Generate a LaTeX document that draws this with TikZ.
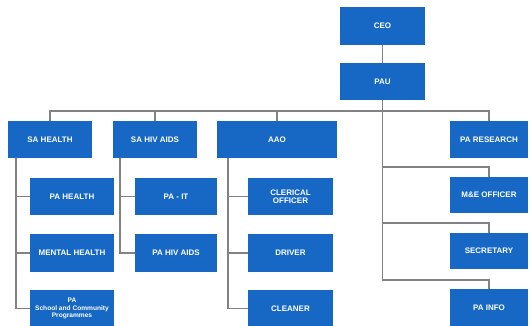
\documentclass[tikz,border=0pt]{standalone}
\usepackage{fontspec}
\setmainfont{Liberation Sans}
\definecolor{boxblue}{RGB}{22,104,196}
\definecolor{linegray}{RGB}{130,130,130}
\begin{document}
\begin{tikzpicture}[x=1pt,y=-1pt,
  box/.style={draw=none,fill=boxblue,text=white,font=\bfseries\fontsize{8}{8.5}\selectfont,
    minimum height=37pt,inner sep=1pt,align=center},
  conn/.style={draw=linegray,line width=1.5pt}]
\clip (0,0) rectangle (531,325);
\fill[white] (0,0) rectangle (531,325);
\node[box,minimum width=85pt,minimum height=38pt] (CEO) at (382.5,26) {CEO};
\node[box,minimum width=85pt] (PAU) at (382.5,81.5) {PAU};
\node[box,minimum width=84pt] (SAH) at (50,139.5) {SA HEALTH};
\node[box,minimum width=84pt] (SAHIV) at (155,139.5) {SA HIV AIDS};
\node[box,minimum width=120pt] (AAO) at (277,139.5) {AAO};
\node[box,minimum width=78pt] (PAR) at (489,139.5) {PA RESEARCH};
\node[box,minimum width=84pt] (PAH) at (72,196.5) {PA HEALTH};
\node[box,minimum width=84pt,minimum height=38pt] (MH) at (72,253) {MENTAL HEALTH};
\node[box,minimum width=84pt,font=\bfseries\fontsize{6.6}{7.8}\selectfont] (PAS) at (72,308.5) {PA\\School and Community\\Programmes};
\node[box,minimum width=82pt] (PAIT) at (176,196.5) {PA - IT};
\node[box,minimum width=82pt,minimum height=38pt] (PAHIV) at (176,253) {PA HIV AIDS};
\node[box,minimum width=85pt] (CLO) at (290.5,196.5) {CLERICAL\\OFFICER};
\node[box,minimum width=85pt,minimum height=38pt] (DRV) at (290.5,253) {DRIVER};
\node[box,minimum width=85pt] (CLN) at (290.5,308.5) {CLEANER};
\node[box,minimum width=78pt,minimum height=36pt] (ME) at (489,195) {M\&E OFFICER};
\node[box,minimum width=78pt,minimum height=36pt] (SEC) at (489,251) {SECRETARY};
\node[box,minimum width=78pt] (INFO) at (489,307.5) {PA INFO};
% connectors
\draw[conn] (CEO.south) -- (PAU.north);
\coordinate (bus) at (382.5,111);
\draw[conn] (PAU.south) -- (bus);
\draw[conn] (bus) -| (SAH.north);
\draw[conn] (bus) -| (SAHIV.north);
\draw[conn] (bus) -| (AAO.north);
\draw[conn] (bus) -| (PAR.north);
\draw[conn] (PAU.south) -- ++(0,67) -| (ME.north);
\draw[conn] (PAU.south) -- ++(0,123) -| (SEC.north);
\draw[conn] (PAU.south) -- ++(0,180) -| (INFO.north);
\draw[conn] ([xshift=8pt]SAH.south west) |- (PAH.west);
\draw[conn] ([xshift=8pt]SAH.south west) |- (MH.west);
\draw[conn] ([xshift=8pt]SAH.south west) |- (PAS.west);
\draw[conn] ([xshift=7pt]SAHIV.south west) |- (PAIT.west);
\draw[conn] ([xshift=7pt]SAHIV.south west) |- (PAHIV.west);
\draw[conn] ([xshift=11pt]AAO.south west) |- (CLO.west);
\draw[conn] ([xshift=11pt]AAO.south west) |- (DRV.west);
\draw[conn] ([xshift=11pt]AAO.south west) |- (CLN.west);
\end{tikzpicture}
\end{document}
